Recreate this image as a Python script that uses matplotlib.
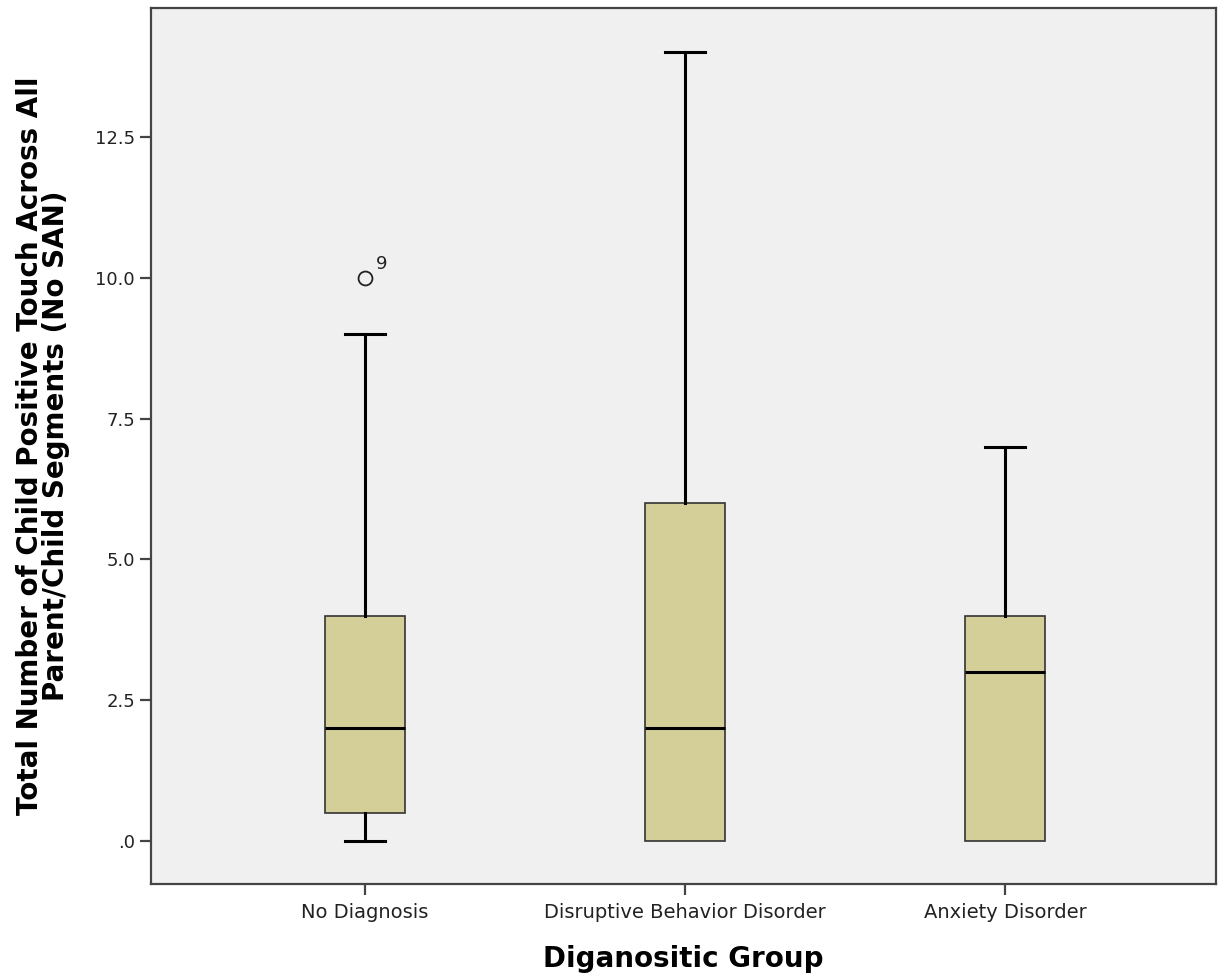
import matplotlib.pyplot as plt
from matplotlib.ticker import FuncFormatter

groups = ["No Diagnosis", "Disruptive Behavior Disorder", "Anxiety Disorder"]
q1 = [0.5, 0.0, 0.0]
medians = [2.0, 2.0, 3.0]
q3 = [4.0, 6.0, 4.0]
whisk_lo = [0.0, 0.0, 0.0]
whisk_hi = [9.0, 14.0, 7.0]
outliers = [[10.0], [], []]
outlier_ids = [["9"], [], []]

box_color = "#d4cf98"
bg_color = "#f0f0f0"

fig = plt.figure(figsize=(12.21, 9.76), dpi=100)
ax = fig.add_axes([0.1237, 0.0943, 0.8722, 0.8975])
ax.set_facecolor(bg_color)

stats = []
for i, name in enumerate(groups):
    stats.append(dict(label=name, med=medians[i], q1=q1[i], q3=q3[i],
                      whislo=whisk_lo[i], whishi=whisk_hi[i], fliers=outliers[i]))

positions = list(range(1, len(groups) + 1))
parts = ax.bxp(stats, positions=positions, widths=0.25, capwidths=0.125,
               patch_artist=True, showfliers=True,
               boxprops=dict(facecolor=box_color, edgecolor="#333333", linewidth=1.2),
               medianprops=dict(color="black", linewidth=2.2),
               whiskerprops=dict(color="black", linewidth=2.2),
               capprops=dict(color="black", linewidth=2.2),
               flierprops=dict(marker="o", markersize=10, markerfacecolor="none",
                               markeredgecolor="#222222", markeredgewidth=1.3))

# no whisker/cap when it collapses onto the box edge
for i in range(len(groups)):
    if whisk_lo[i] == q1[i]:
        parts["caps"][2 * i].set_visible(False)
        parts["whiskers"][2 * i].set_visible(False)
    if whisk_hi[i] == q3[i]:
        parts["caps"][2 * i + 1].set_visible(False)
        parts["whiskers"][2 * i + 1].set_visible(False)

# case numbers next to the outliers
for pos, vals, ids in zip(positions, outliers, outlier_ids):
    for v, lab in zip(vals, ids):
        ax.annotate(lab, (pos, v), xytext=(8, 6), textcoords="offset points",
                    fontsize=13, color="#222222")

ax.set_xlim(0.331, 3.659)
ax.set_ylim(-0.765, 14.79)
ax.set_yticks([0, 2.5, 5.0, 7.5, 10.0, 12.5])
ax.yaxis.set_major_formatter(FuncFormatter(lambda v, p: ".0" if v == 0 else f"{v:.1f}"))
ax.set_xticks(positions)
ax.set_xticklabels(groups)

for s in ax.spines.values():
    s.set_linewidth(1.6)
    s.set_color("#444444")
ax.tick_params(axis="both", direction="out", length=8, width=1.6, color="#444444",
               labelsize=13, labelcolor="#222222")
ax.tick_params(axis="x", labelsize=14, pad=6)

ax.set_xlabel("Diganositic Group", fontsize=20, fontweight="bold", labelpad=16)
ax.set_ylabel("Total Number of Child Positive Touch Across All\nParent/Child Segments (No SAN)",
              fontsize=20, fontweight="bold", labelpad=18, linespacing=0.9)

fig.savefig("out.png", dpi=100)
